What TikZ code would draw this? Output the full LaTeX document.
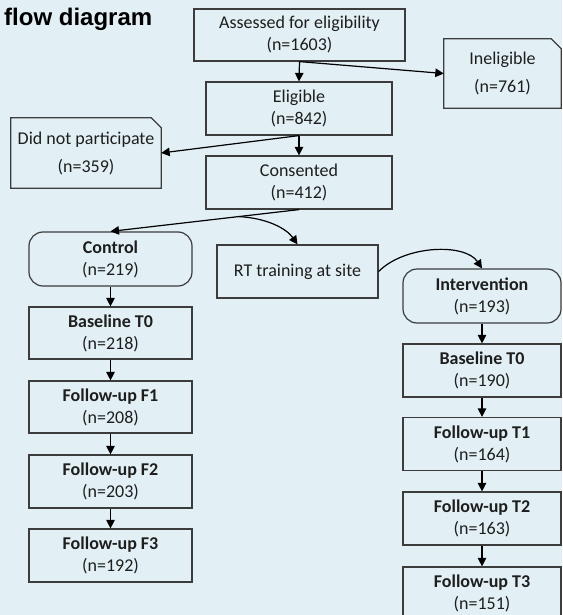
\documentclass[tikz,border=0pt]{standalone}
\usepackage{fontspec}
\setmainfont{Carlito}
\newfontfamily\titlefont{Liberation Sans}
\usetikzlibrary{arrows.meta,calc}
\definecolor{bg}{RGB}{226,240,245}
\definecolor{edge}{RGB}{60,60,60}
\definecolor{txt}{RGB}{30,30,30}
\tikzset{
  box/.style={draw=edge, line width=1.2pt, inner sep=0pt, align=center,
    font=\fontsize{18}{22}\selectfont, text=txt},
  rbox/.style={box, rounded corners=14pt},
  note/.style={inner sep=0pt, align=center, font=\fontsize{18}{28}\selectfont, text=txt},
  earline/.style={draw=edge, line width=1.2pt},
  arr/.style={-{Triangle[length=8.5pt,width=8.5pt]}, line width=1.2pt, black},
  lcol/.style={minimum width=163pt, minimum height=52pt},
  rcol/.style={minimum width=158pt, minimum height=53pt}
}
\begin{document}
\begin{tikzpicture}[x=1pt,y=-1pt]
\useasboundingbox (0,0) rectangle (562,615);
\fill[bg] (0,0) rectangle (562,615);
\clip (0,0) rectangle (562,615);

\node[anchor=base west, inner sep=0pt, font=\titlefont\bfseries\fontsize{24}{28}\selectfont] (title) at (4,26) {flow diagram};

\node[box, minimum width=211pt, minimum height=52pt] (assess) at (299.5,35) {Assessed for eligibility\\(n=1603)};
\node[note, minimum width=117pt, minimum height=69pt] (inel) at (502.5,73.5) {Ineligible\\(n=761)};
\draw[earline] (inel.north west) -- ([xshift=-10pt]inel.north east) -- ([yshift=-10pt]inel.north east) -- (inel.south east) -- (inel.south west) -- cycle;
\node[box, minimum width=186pt, minimum height=53pt] (elig) at (299,108.5) {Eligible\\(n=842)};
\node[note, minimum width=150pt, minimum height=70pt] (dnp) at (86,153) {Did not participate\\(n=359)};
\draw[earline] (dnp.north west) -- ([xshift=-10pt]dnp.north east) -- ([yshift=-10pt]dnp.north east) -- (dnp.south east) -- (dnp.south west) -- cycle;
\node[box, minimum width=186pt, minimum height=53pt] (cons) at (299,182.5) {Consented\\(n=412)};

\node[rbox, lcol, minimum height=54pt] (ctrl) at (110.5,259) {\textbf{Control}\\(n=219)};
\node[box, minimum width=161pt, minimum height=53pt] (rt) at (297.5,271.5) {RT training at site};
\node[rbox, rcol, minimum height=54pt] (intv) at (482,296) {\textbf{Intervention}\\(n=193)};

\node[box, lcol] (lb) at (110.5,333) {\textbf{Baseline T0}\\(n=218)};
\node[box, lcol] (f1) at (110.5,407) {\textbf{Follow-up F1}\\(n=208)};
\node[box, lcol, minimum height=53pt] (f2) at (110.5,481.5) {\textbf{Follow-up F2}\\(n=203)};
\node[box, lcol, minimum height=53pt] (f3) at (110.5,555.5) {\textbf{Follow-up F3}\\(n=192)};

\node[box, rcol] (rb) at (482,370.5) {\textbf{Baseline T0}\\(n=190)};
\node[box, rcol] (t1) at (482,444) {\textbf{Follow-up T1}\\(n=164)};
\node[box, rcol] (t2) at (482,518.5) {\textbf{Follow-up T2}\\(n=163)};
\node[box, rcol, minimum height=52pt] (t3) at (482,593) {\textbf{Follow-up T3}\\(n=151)};

\draw[arr] (assess.south) -- (elig.north);
\draw[arr] (assess.south) -- (inel.west);
\draw[arr] (elig.south) -- (cons.north);
\draw[arr] (elig.south) -- (dnp.east);
\draw[arr] (cons.south) -- (ctrl.north);
\coordinate (br) at ($(cons.south)!0.32!(ctrl.north)$);
\draw[arr] (br) .. controls (266,218) and (286,228) .. (rt.north);
\draw[arr] (rt.east) .. controls (405,245) and (465,243) .. (intv.north);

\draw[arr] (ctrl.south) -- (lb.north);
\draw[arr] (lb.south) -- (f1.north);
\draw[arr] (f1.south) -- (f2.north);
\draw[arr] (f2.south) -- (f3.north);
\draw[arr] (intv.south) -- (rb.north);
\draw[arr] (rb.south) -- (t1.north);
\draw[arr] (t1.south) -- (t2.north);
\draw[arr] (t2.south) -- (t3.north);
\end{tikzpicture}
\end{document}
